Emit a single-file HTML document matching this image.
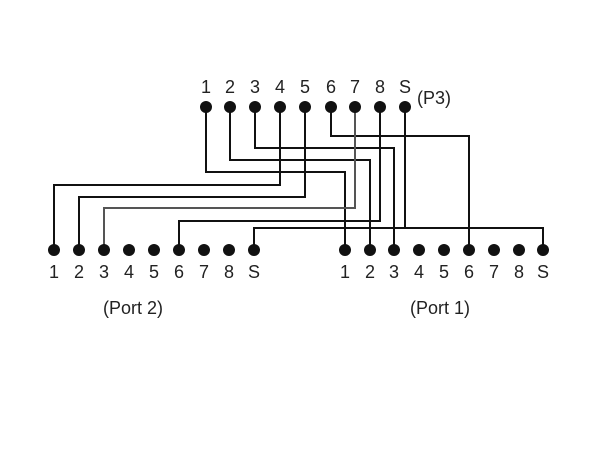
<!DOCTYPE html>
<html><head><style>
body{margin:0;background:#fff}
svg text{font-family:"Liberation Sans",sans-serif;font-size:18px;fill:#222}
</style></head><body>
<svg width="600" height="451" viewBox="0 0 600 451" xmlns="http://www.w3.org/2000/svg">
<g fill="none" stroke="#111" stroke-width="2">
<polyline points="206,107 206,172 345,172 345,250"/>
<polyline points="230,107 230,160 370,160 370,250"/>
<polyline points="255,107 255,148 394,148 394,250"/>
<polyline points="280,107 280,185 54,185 54,250"/>
<polyline points="305,107 305,197 79,197 79,250"/>
<polyline points="331,107 331,136 469,136 469,250"/>
<polyline points="355,107 355,208 104,208 104,250" stroke="#555"/>
<polyline points="380,107 380,221 179,221 179,250"/>
<polyline points="405,107 405,228"/>
<polyline points="254,250 254,228 543,228 543,250"/>
</g>
<g fill="#111">
<circle cx="206" cy="107" r="6"/><circle cx="230" cy="107" r="6"/><circle cx="255" cy="107" r="6"/><circle cx="280" cy="107" r="6"/><circle cx="305" cy="107" r="6"/><circle cx="331" cy="107" r="6"/><circle cx="355" cy="107" r="6"/><circle cx="380" cy="107" r="6"/><circle cx="405" cy="107" r="6"/>
<circle cx="54" cy="250" r="6"/><circle cx="79" cy="250" r="6"/><circle cx="104" cy="250" r="6"/><circle cx="129" cy="250" r="6"/><circle cx="154" cy="250" r="6"/><circle cx="179" cy="250" r="6"/><circle cx="204" cy="250" r="6"/><circle cx="229" cy="250" r="6"/><circle cx="254" cy="250" r="6"/>
<circle cx="345" cy="250" r="6"/><circle cx="370" cy="250" r="6"/><circle cx="394" cy="250" r="6"/><circle cx="419" cy="250" r="6"/><circle cx="444" cy="250" r="6"/><circle cx="469" cy="250" r="6"/><circle cx="494" cy="250" r="6"/><circle cx="519" cy="250" r="6"/><circle cx="543" cy="250" r="6"/>
</g>
<g text-anchor="middle">
<text x="206" y="93">1</text><text x="230" y="93">2</text><text x="255" y="93">3</text><text x="280" y="93">4</text><text x="305" y="93">5</text><text x="331" y="93">6</text><text x="355" y="93">7</text><text x="380" y="93">8</text><text x="405" y="93">S</text>
<text x="54" y="278">1</text><text x="79" y="278">2</text><text x="104" y="278">3</text><text x="129" y="278">4</text><text x="154" y="278">5</text><text x="179" y="278">6</text><text x="204" y="278">7</text><text x="229" y="278">8</text><text x="254" y="278">S</text>
<text x="345" y="278">1</text><text x="370" y="278">2</text><text x="394" y="278">3</text><text x="419" y="278">4</text><text x="444" y="278">5</text><text x="469" y="278">6</text><text x="494" y="278">7</text><text x="519" y="278">8</text><text x="543" y="278">S</text>
<text x="133" y="314">(Port 2)</text>
<text x="440" y="314">(Port 1)</text>
</g>
<text x="417" y="104">(P3)</text>
</svg>
</body></html>
